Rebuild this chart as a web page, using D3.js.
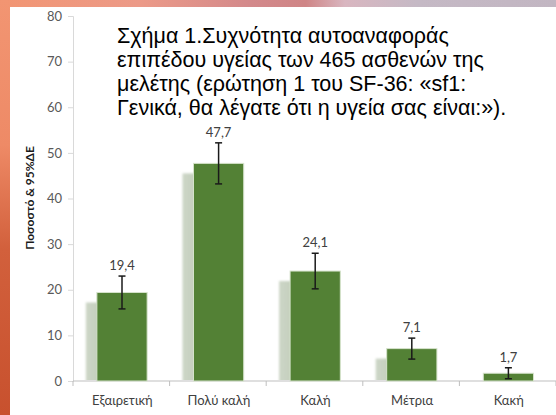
<!DOCTYPE html>
<html>
<head>
<meta charset="utf-8">
<script src="https://cdn.jsdelivr.net/npm/d3@7"></script>
<style>
  html, body { margin: 0; padding: 0; background: #fff; }
  svg { display: block; }
</style>
</head>
<body>
<svg id="chart" width="556" height="415"></svg>
<script>
const categories = ["Εξαιρετική", "Πολύ καλή", "Καλή", "Μέτρια", "Κακή"];
const values = [19.4, 47.7, 24.1, 7.1, 1.7];
const valueLabels = ["19,4", "47,7", "24,1", "7,1", "1,7"];
const ciLower = [15.8, 43.2, 20.2, 4.8, 0.5];
const ciUpper = [23.0, 52.2, 28.0, 9.4, 2.9];
const yTicks = [0, 10, 20, 30, 40, 50, 60, 70, 80];
const titleLines = [
  "Σχήμα 1.Συχνότητα αυτοαναφοράς",
  "επιπέδου υγείας των 465 ασθενών της",
  "μελέτης (ερώτηση 1 του SF-36: «sf1:",
  "Γενικά, θα λέγατε ότι η υγεία σας είναι:»)."
];
const yTitle = "Ποσοστό & 95%ΔΕ";

const svg = d3.select("#chart");
const defs = svg.append("defs");

// background frame gradients
const gLeft = defs.append("linearGradient").attr("id", "gLeft")
  .attr("x1", 0).attr("y1", 0).attr("x2", 0).attr("y2", 1);
gLeft.append("stop").attr("offset", "0%").attr("stop-color", "#f29572");
gLeft.append("stop").attr("offset", "35%").attr("stop-color", "#ee8a66");
gLeft.append("stop").attr("offset", "60%").attr("stop-color", "#d2603c");
gLeft.append("stop").attr("offset", "100%").attr("stop-color", "#c8512e");
const gTop = defs.append("linearGradient").attr("id", "gTop")
  .attr("x1", 0).attr("y1", 0).attr("x2", 1).attr("y2", 0);
gTop.append("stop").attr("offset", "0%").attr("stop-color", "#f29572");
gTop.append("stop").attr("offset", "25%").attr("stop-color", "#ec9a88");
gTop.append("stop").attr("offset", "45%").attr("stop-color", "#d3898b");
gTop.append("stop").attr("offset", "55%").attr("stop-color", "#cf8586");
gTop.append("stop").attr("offset", "62%").attr("stop-color", "#d9b6c0");
gTop.append("stop").attr("offset", "75%").attr("stop-color", "#c5b9c5");
gTop.append("stop").attr("offset", "100%").attr("stop-color", "#c2b6c2");

svg.append("rect").attr("x", 0).attr("y", 0).attr("width", 556).attr("height", 8).attr("fill", "url(#gTop)");
svg.append("rect").attr("x", 0).attr("y", 0).attr("width", 10).attr("height", 415).attr("fill", "url(#gLeft)");
svg.append("rect").attr("x", 10).attr("y", 7).attr("width", 546).attr("height", 408).attr("fill", "#ffffff");

// shadow gradient
const gSh = defs.append("linearGradient").attr("id", "gSh")
  .attr("x1", 0).attr("y1", 0).attr("x2", 1).attr("y2", 0);
gSh.append("stop").attr("offset", "0%").attr("stop-color", "#cdd6c7");
gSh.append("stop").attr("offset", "100%").attr("stop-color", "#a9b99f");
defs.append("filter").attr("id", "blur").append("feGaussianBlur").attr("stdDeviation", 0.8);
defs.append("clipPath").attr("id", "plotClip").append("rect")
  .attr("x", 73).attr("y", 0).attr("width", 483).attr("height", 380);

const x = d3.scaleBand().domain(categories).range([73, 556]).padding(0);
const y = d3.scaleLinear().domain([0, 80]).range([381, 16]);
const barW = x.bandwidth() * 0.52;
const barX = d => x(d) + (x.bandwidth() - barW) / 2 + 0.7;

// y axis
const yAxis = d3.axisLeft(y).tickValues(yTicks).tickSize(5).tickPadding(6);
const ya = svg.append("g").attr("transform", "translate(73,0)").call(yAxis);
ya.select(".domain").attr("stroke", "#d9d9d9").attr("stroke-width", 1);
ya.selectAll(".tick line").attr("stroke", "#d9d9d9");
ya.selectAll(".tick text").attr("fill", "#595959").style("font-family", "Lato, 'Open Sans', sans-serif").style("font-size", "13px");

// shadows
const data = categories.map((c, i) => ({ c, v: values[i], lo: ciLower[i], hi: ciUpper[i], lab: valueLabels[i] }));
svg.append("g").attr("clip-path", "url(#plotClip)")
  .selectAll("rect").data(data).join("rect")
  .attr("x", d => barX(d.c) - 11)
  .attr("y", d => y(d.v) + 10)
  .attr("width", barW)
  .attr("height", d => Math.max(0, y(0) - y(d.v)))
  .attr("fill", "url(#gSh)")
  .attr("filter", "url(#blur)");

// x baseline
svg.append("line").attr("x1", 73).attr("x2", 556).attr("y1", 381).attr("y2", 381)
  .attr("stroke", "#bfbfbf").attr("stroke-width", 1.2);
// category ticks
const bounds = categories.map(c => x(c)).concat([x(categories[categories.length - 1]) + x.bandwidth()]);
svg.append("g").selectAll("line").data(bounds).join("line")
  .attr("x1", d => d).attr("x2", d => d).attr("y1", 381).attr("y2", 386)
  .attr("stroke", "#bfbfbf");

// bars
svg.append("g").selectAll("rect").data(data).join("rect")
  .attr("x", d => barX(d.c))
  .attr("y", d => y(d.v))
  .attr("width", barW)
  .attr("height", d => y(0) - y(d.v))
  .attr("fill", "#538135")
  .attr("stroke", "#d6e3cc")
  .attr("stroke-width", 1);

// error bars
const eb = svg.append("g").attr("stroke", "#1a1a1a").attr("stroke-width", 1.5);
data.forEach(d => {
  const cx = barX(d.c) + barW / 2;
  eb.append("line").attr("x1", cx).attr("x2", cx).attr("y1", y(d.hi)).attr("y2", y(d.lo));
  eb.append("line").attr("x1", cx - 3.5).attr("x2", cx + 3.5).attr("y1", y(d.hi)).attr("y2", y(d.hi));
  eb.append("line").attr("x1", cx - 3.5).attr("x2", cx + 3.5).attr("y1", y(d.lo)).attr("y2", y(d.lo));
});

// value labels
svg.append("g").selectAll("text").data(data).join("text")
  .attr("x", d => barX(d.c) + barW / 2)
  .attr("y", d => y(d.hi) - 6)
  .attr("text-anchor", "middle")
  .attr("fill", "#404040")
  .style("font-family", "Lato, 'Open Sans', sans-serif")
  .style("font-size", "13px")
  .text(d => d.lab);

// category labels
svg.append("g").selectAll("text").data(categories).join("text")
  .attr("x", d => x(d) + x.bandwidth() / 2 + 1)
  .attr("y", 405)
  .attr("text-anchor", "middle")
  .attr("fill", "#404040")
  .style("font-family", "Lato, 'Open Sans', sans-serif")
  .style("font-size", "13px")
  .text(d => d);

// y title
svg.append("text")
  .attr("transform", "translate(34,198) rotate(-90)")
  .attr("text-anchor", "middle")
  .attr("fill", "#1a1a1a")
  .style("font-family", "Lato, 'Open Sans', sans-serif")
  .style("font-weight", "bold")
  .style("font-size", "12px")
  .text(yTitle);

// title
svg.append("g").selectAll("text").data(titleLines).join("text")
  .attr("x", 117)
  .attr("y", (d, i) => 43 + i * 24)
  .attr("fill", "#000")
  .style("font-family", "'Liberation Sans', Arial, sans-serif")
  .style("font-size", "21.5px")
  .text(d => d);
</script>
</body>
</html>
